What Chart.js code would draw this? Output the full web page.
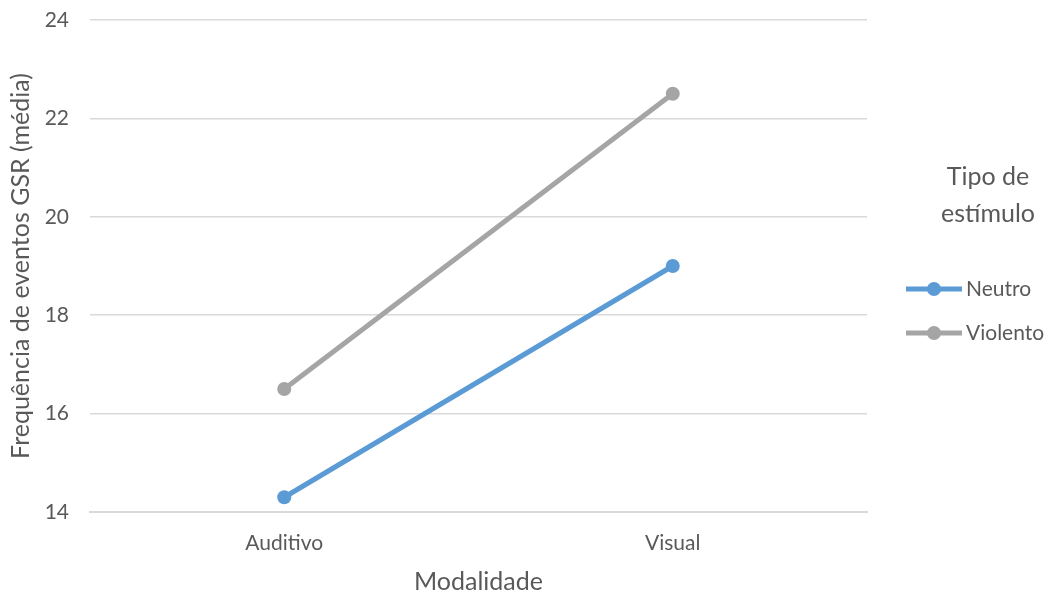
<!DOCTYPE html>
<html>
<head>
<meta charset="utf-8">
<script src="https://cdn.jsdelivr.net/npm/chart.js@4/dist/chart.umd.min.js"></script>
<style>
  html, body { margin: 0; padding: 0; background: #fff; }
  #wrap { width: 1049px; height: 592px; position: relative; }
</style>
</head>
<body>
<div id="wrap"><canvas id="c" width="1049" height="592"></canvas></div>
<script>
// Mean GSR event frequency by modality and stimulus type
const categories = ['Auditivo', 'Visual'];
const neutro = [14.3, 19.0];
const violento = [16.5, 22.5];
const seriesNames = ['Neutro', 'Violento'];
const yTicks = [14, 16, 18, 20, 22, 24];

const FONT = 'Lato, "Open Sans", sans-serif';
const TEXT = '#595959';
const BLUE = '#5B9BD5';
const GRAY = '#A5A5A5';

// Legend on the right with a two-line title and line+marker swatches
const sideLegend = {
  id: 'sideLegend',
  afterDraw(chart) {
    const ctx = chart.ctx;
    const area = chart.chartArea;
    const cx = area.right + 121;
    ctx.save();
    ctx.fillStyle = TEXT;
    ctx.font = '25px ' + FONT;
    ctx.textAlign = 'center';
    ctx.textBaseline = 'middle';
    ctx.fillText('Tipo de', cx, area.top + 157);
    ctx.fillText('estímulo', cx, area.top + 194);
    chart.data.datasets.forEach((ds, i) => {
      const y = area.top + 269 + i * 44;
      const x0 = area.right + 39;
      ctx.strokeStyle = ds.borderColor;
      ctx.lineWidth = 5;
      ctx.beginPath();
      ctx.moveTo(x0, y);
      ctx.lineTo(x0 + 56, y);
      ctx.stroke();
      ctx.fillStyle = ds.borderColor;
      ctx.beginPath();
      ctx.arc(x0 + 28, y, 7, 0, Math.PI * 2);
      ctx.fill();
      ctx.fillStyle = TEXT;
      ctx.font = '21px ' + FONT;
      ctx.textAlign = 'left';
      ctx.fillText(ds.label, x0 + 60, y);
    });
    ctx.restore();
  }
};

new Chart(document.getElementById('c'), {
  type: 'line',
  data: {
    labels: categories,
    datasets: [
      { label: seriesNames[0], data: neutro, borderColor: BLUE, backgroundColor: BLUE,
        borderWidth: 5, pointRadius: 7, pointHoverRadius: 7, pointBorderWidth: 0 },
      { label: seriesNames[1], data: violento, borderColor: GRAY, backgroundColor: GRAY,
        borderWidth: 5, pointRadius: 7, pointHoverRadius: 7, pointBorderWidth: 0 }
    ]
  },
  options: {
    responsive: false,
    animation: false,
    layout: { padding: { top: 20, right: 182, left: 0, bottom: 0 } },
    plugins: { legend: { display: false }, tooltip: { enabled: false } },
    scales: {
      x: {
        offset: true,
        grid: { display: false },
        border: { display: true, color: '#D9D9D9', width: 2 },
        ticks: { color: TEXT, font: { family: FONT, size: 21 }, padding: 11 },
        title: { display: true, text: 'Modalidade', color: TEXT, font: { family: FONT, size: 25, lineHeight: 1 }, padding: { top: 10, bottom: -2 } },
        afterFit(s) { s.height = 80; }
      },
      y: {
        min: 14, max: 24,
        afterBuildTicks(s) { s.ticks = yTicks.map(v => ({ value: v })); },
        grid: { color: '#D9D9D9', lineWidth: 1.5, drawTicks: false },
        border: { display: false },
        ticks: { color: TEXT, font: { family: FONT, size: 21 }, padding: 21 },
        title: { display: true, text: 'Frequência de eventos GSR (média)', color: TEXT, font: { family: FONT, size: 25 }, padding: { top: 6, bottom: 6 } },
        afterFit(s) { s.width = 90; s.paddingTop = 0; s.paddingBottom = 0; }
      }
    }
  },
  plugins: [sideLegend]
});
</script>
</body>
</html>
